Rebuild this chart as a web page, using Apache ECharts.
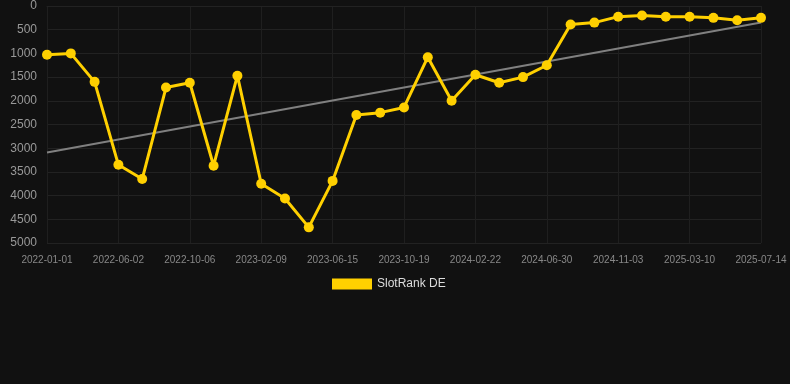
<!DOCTYPE html>
<html><head><meta charset="utf-8">
<script src="https://cdn.jsdelivr.net/npm/echarts@6/dist/echarts.min.js"></script>
<style>html,body{margin:0;padding:0;background:#111111;}#c{width:790px;height:384px;}</style>
</head><body><div id="c"></div>
<script>
const categories = ["2022-01-01","2022-02-20","2022-04-11","2022-06-02","2022-07-14","2022-08-25","2022-10-06","2022-11-17","2022-12-29","2023-02-09","2023-03-23","2023-05-04","2023-06-15","2023-07-27","2023-09-07","2023-10-19","2023-11-30","2024-01-11","2024-02-22","2024-04-04","2024-05-18","2024-06-30","2024-08-11","2024-09-22","2024-11-03","2024-12-15","2025-01-27","2025-03-10","2025-04-21","2025-06-02","2025-07-14"];
const rankValues = [1030,1000,1600,3350,3650,1720,1620,3370,1470,3750,4060,4670,3690,2300,2250,2140,1080,2000,1450,1620,1500,1250,390,350,225,200,225,225,250,300,250];
const trendValues = [3090, 350];
const yTicks = {min:0, max:5000, interval:500};

const chart = echarts.init(document.getElementById('c'));
chart.setOption({
  backgroundColor:'#111111',
  animation:false,
  textStyle:{fontFamily:'Liberation Sans, Arial, sans-serif'},
  grid:{left:47, right:29, top:6, bottom:141},
  legend:{
    top:273, left:327, itemWidth:40, itemHeight:11, itemGap:10,
    data:[{name:'SlotRank DE', icon:'rect'}],
    textStyle:{color:'#dddddd', fontSize:12}
  },
  xAxis:{
    type:'category', data:categories, boundaryGap:false,
    axisLine:{show:true, lineStyle:{color:'#222222'}},
    axisTick:{show:false},
    axisLabel:{interval:2, color:'#888888', fontSize:10, margin:12},
    splitLine:{show:true, interval:2, lineStyle:{color:'#1f1f1f', width:1}}
  },
  yAxis:{
    type:'value', inverse:true, min:yTicks.min, max:yTicks.max, interval:yTicks.interval,
    axisLine:{show:false}, axisTick:{show:false},
    axisLabel:{color:'#999999', fontSize:12, margin:10, formatter:function(v){return String(v);}},
    splitLine:{lineStyle:{color:'#222222', width:1}}
  },
  series:[
    {
      name:'SlotRank DE', type:'line', data:rankValues,
      symbol:'circle', symbolSize:10,
      lineStyle:{color:'#FFD000', width:3},
      itemStyle:{color:'#FFD000'},
      z:3
    },
    {
      name:'trend', type:'line',
      data:[[categories[0], trendValues[0]],[categories[categories.length-1], trendValues[1]]],
      symbol:'none', lineStyle:{color:'#808080', width:2},
      z:2
    }
  ]
});
</script></body></html>
